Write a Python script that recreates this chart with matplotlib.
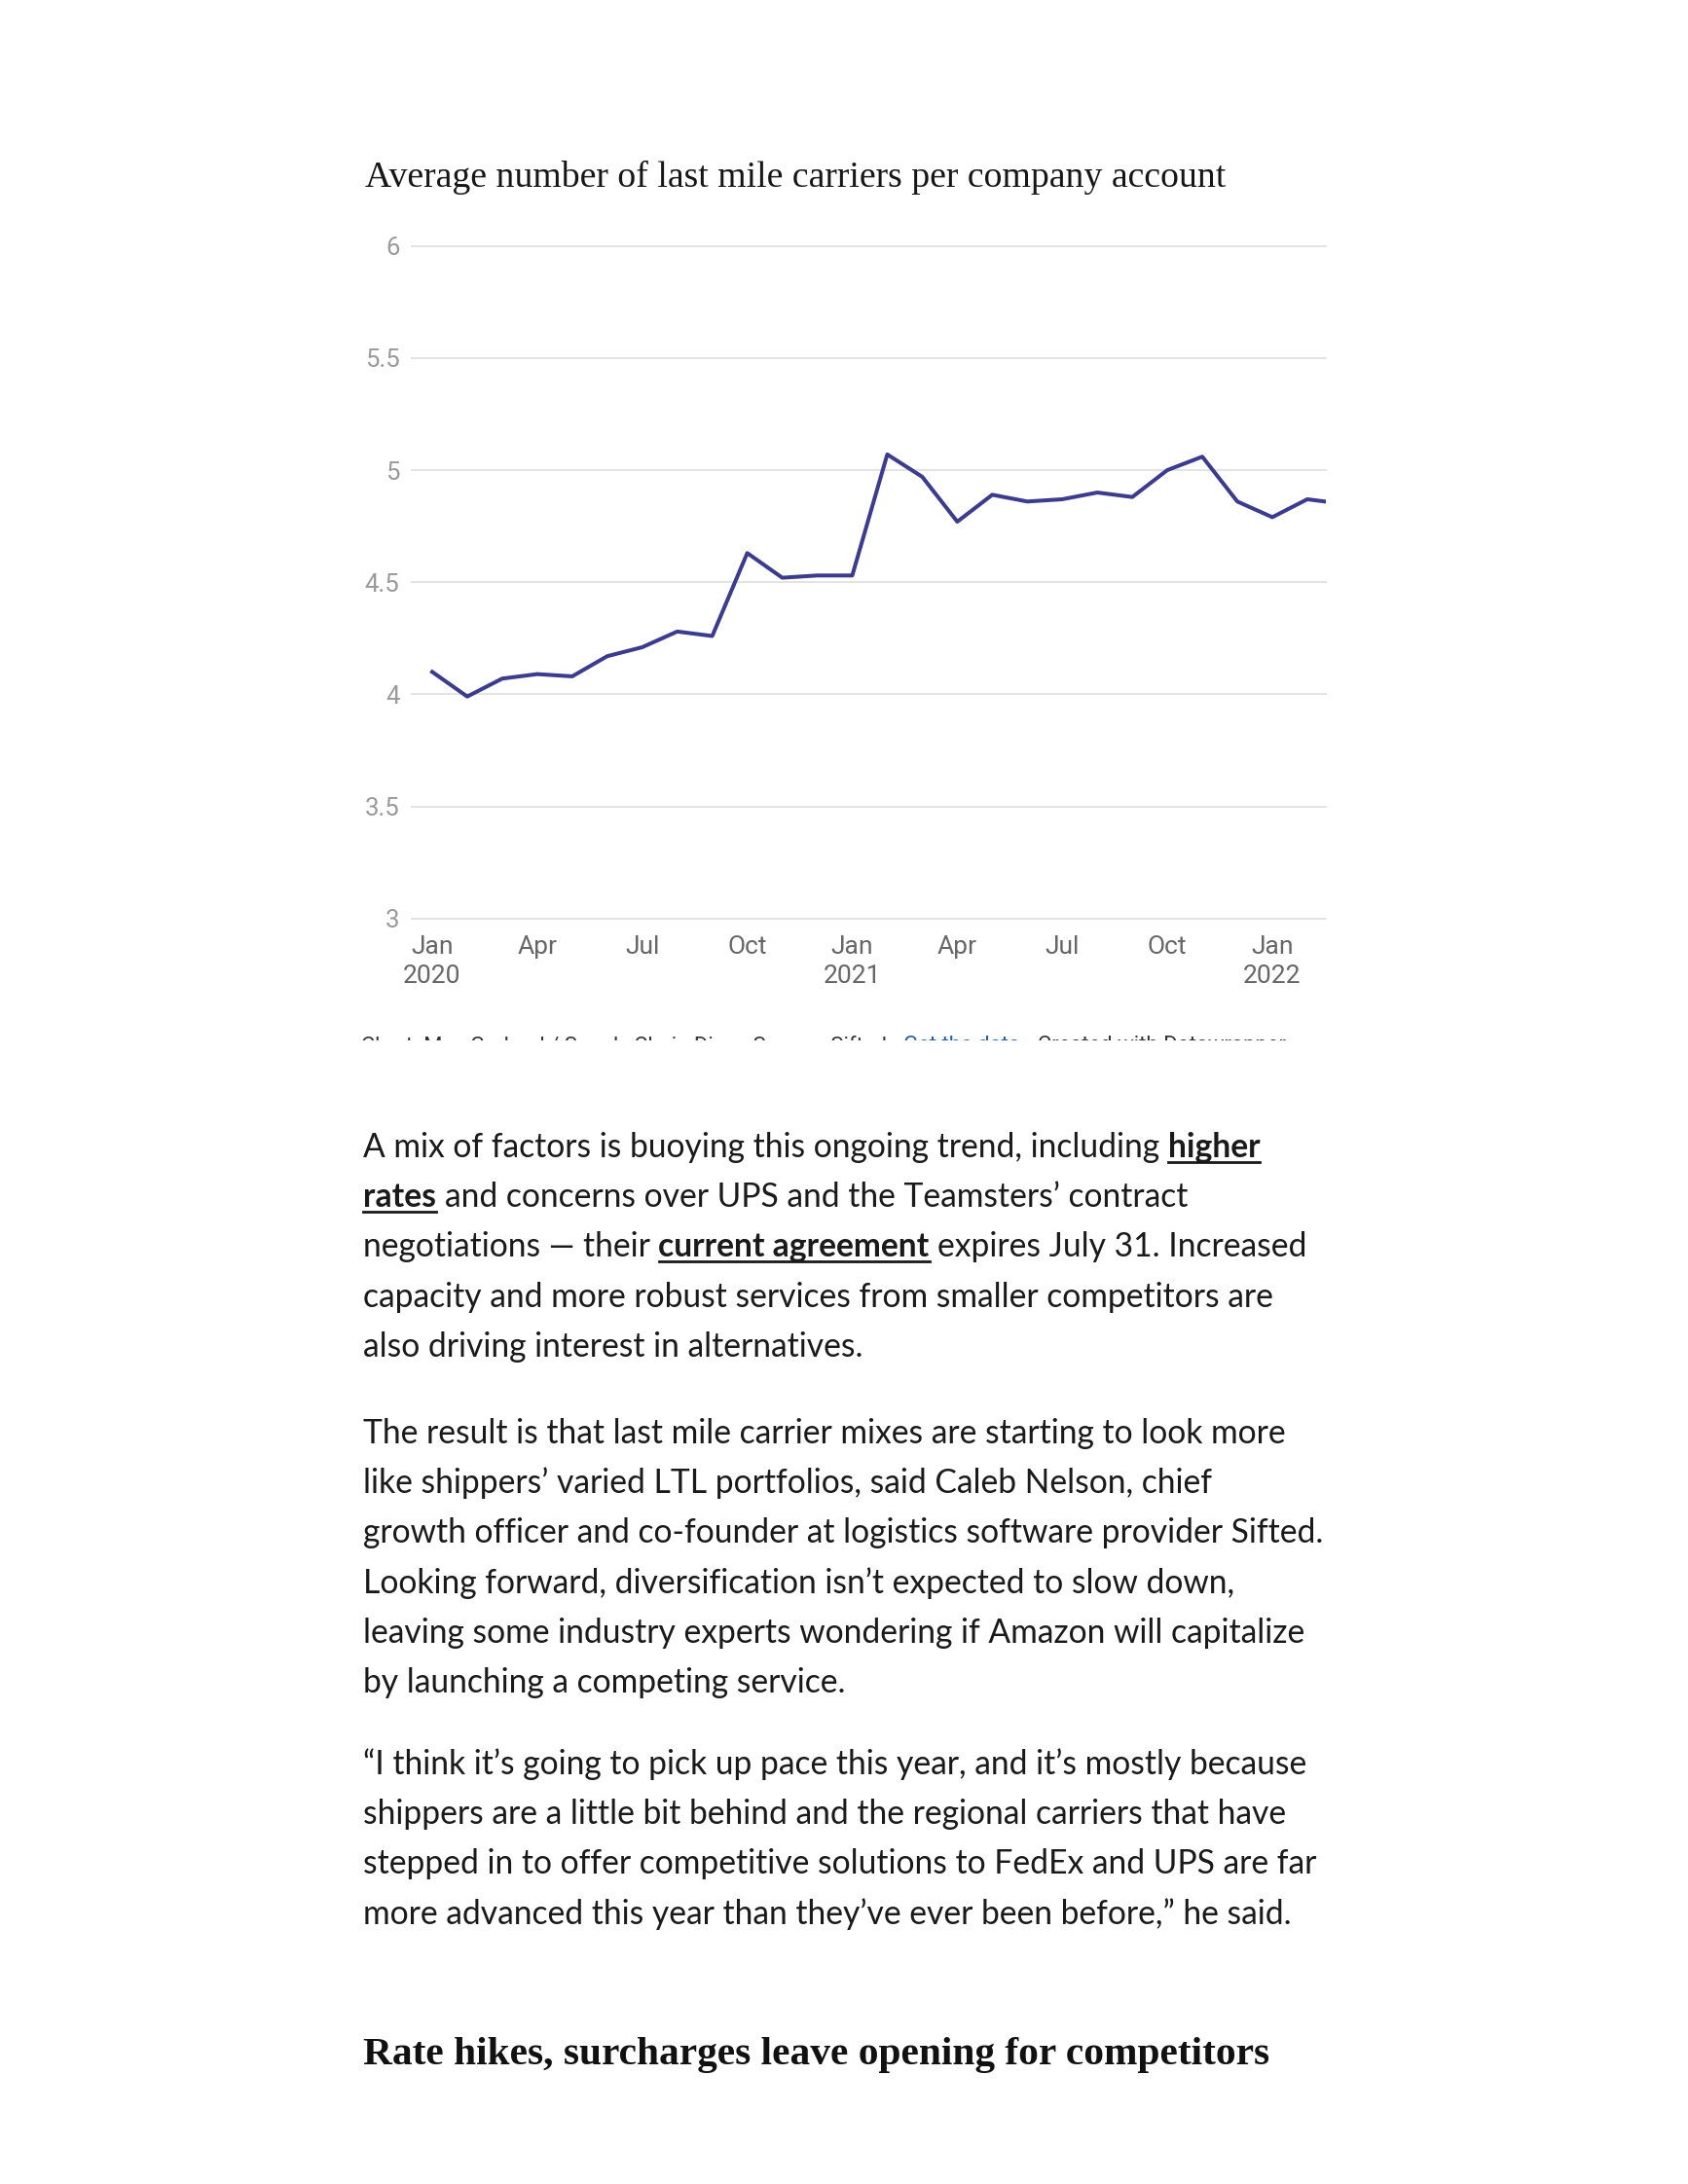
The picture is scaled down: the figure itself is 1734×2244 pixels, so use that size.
import numpy as np
import matplotlib.pyplot as plt
from matplotlib.patches import Rectangle

W, H = 1734, 2244

months = ["Jan\n2020", "Feb", "Mar", "Apr", "May", "Jun", "Jul", "Aug", "Sep", "Oct", "Nov", "Dec",
          "Jan\n2021", "Feb", "Mar", "Apr", "May", "Jun", "Jul", "Aug", "Sep", "Oct", "Nov", "Dec",
          "Jan\n2022", "Feb", "Mar"]
carriers = [4.10, 3.99, 4.07, 4.09, 4.08, 4.17, 4.21, 4.28, 4.26, 4.63, 4.52, 4.53,
            4.53, 5.07, 4.97, 4.77, 4.89, 4.86, 4.87, 4.90, 4.88, 5.00, 5.06, 4.86,
            4.79, 4.87, 4.85]
y_ticks = [3, 3.5, 4, 4.5, 5, 5.5, 6]
x_tick_every = 3

title = "Average number of last mile carriers per company account"
footer = ["Chart: Max Garland / Supply Chain Dive \u2022 Source: Sifted \u2022", "Get the data",
          "\u2022 Created with Datawrapper"]

# body text: each line is a list of (text, bold link)
paragraphs = [
    [[("A mix of factors is buoying this ongoing trend, including", False), ("higher", True)],
     [("rates", True), ("and concerns over UPS and the Teamsters\u2019 contract", False)],
     [("negotiations \u2014 their", False), ("current agreement", True), ("expires July 31. Increased", False)],
     [("capacity and more robust services from smaller competitors are", False)],
     [("also driving interest in alternatives.", False)]],
    [[("The result is that last mile carrier mixes are starting to look more", False)],
     [("like shippers\u2019 varied LTL portfolios, said Caleb Nelson, chief", False)],
     [("growth officer and co-founder at logistics software provider Sifted.", False)],
     [("Looking forward, diversification isn\u2019t expected to slow down,", False)],
     [("leaving some industry experts wondering if Amazon will capitalize", False)],
     [("by launching a competing service.", False)]],
    [[("\u201cI think it\u2019s going to pick up pace this year, and it\u2019s mostly because", False)],
     [("shippers are a little bit behind and the regional carriers that have", False)],
     [("stepped in to offer competitive solutions to FedEx and UPS are far", False)],
     [("more advanced this year than they\u2019ve ever been before,\u201d he said.", False)]],
]
heading = "Rate hikes, surcharges leave opening for competitors"


def fx(px):
    return px / W


def fy(py):
    return 1 - py / H


fig = plt.figure(figsize=(W / 100, H / 100), dpi=100)
fig.patch.set_facecolor("white")
rend = fig.canvas.get_renderer()


def fit_size(txt, size, target, **kw):
    t = fig.text(0, 0, txt, fontsize=size, **kw)
    w = t.get_window_extent(rend).width
    t.remove()
    return size * target / w


# chart
ax = fig.add_axes([fx(423), fy(943.7), (1362 - 423) / W, (943.7 - 252.7) / H])
x = np.arange(len(carriers))
for v in y_ticks:
    ax.axhline(v, color="#e3e3e3", lw=1.4, zorder=1, clip_on=False)
ax.plot(x, carriers, color="#3c3c8e", lw=2.9, zorder=3)
ax.set_xlim(-0.584, 25.53)
ax.set_ylim(3, 6)
for s in ax.spines.values():
    s.set_visible(False)
ax.set_yticks(y_ticks)
ax.set_yticklabels([f"{v:g}" for v in y_ticks], family="Roboto", fontsize=18.5, color="#9a9a9a")
ax.set_xticks(x[::x_tick_every])
ax.set_xticklabels(months[::x_tick_every], family="Roboto", fontsize=19, color="#666666",
                   linespacing=1.33)
ax.tick_params(axis="y", length=0, pad=9)
ax.tick_params(axis="x", length=0, pad=12.5)

fig.text(fx(375), fy(191.7), title, va="baseline", ha="left", color="#161616",
         fontsize=fit_size(title, 25, 1262 - 375, family="Liberation Serif"),
         family="Liberation Serif")

# cut-off footer line
fsz = fit_size(" ".join(footer), 14, 1330 - 371, family="Roboto")
xp = 371
for i, (seg, col) in enumerate(zip(footer, ["#333333", "#1d5fa8", "#333333"])):
    t = fig.text(fx(xp), fy(1064), seg, va="top", ha="left", fontsize=fsz, family="Roboto", color=col)
    xp = t.get_window_extent(rend).x1 + fsz * 0.28
fig.patches.append(Rectangle((0, fy(1100)), 1, fy(1069) - fy(1100), transform=fig.transFigure,
                             facecolor="white", edgecolor="none", zorder=10))

# article text
body_font = "Lato"
bsz = 1.015 * fit_size(paragraphs[1][2][0][0], 22, 1343 - 373, family=body_font)
probe = fig.text(0, 0, "a a", fontsize=bsz, family=body_font)
probe2 = fig.text(0, 0, "aa", fontsize=bsz, family=body_font)
space = probe.get_window_extent(rend).width - probe2.get_window_extent(rend).width
probe.remove()
probe2.remove()

para_starts = [1189, 1483, 1823]
line_gap = 51.2
for start, para in zip(para_starts, paragraphs):
    for i, line in enumerate(para):
        base = start + i * line_gap
        xp = 373
        for seg, bold in line:
            t = fig.text(fx(xp), fy(base), seg, va="baseline", ha="left", fontsize=bsz,
                         family=body_font, weight="bold" if bold else "normal", color="#1a1a1a")
            bb = t.get_window_extent(rend)
            if bold:
                fig.add_artist(plt.Line2D([fx(bb.x0), fx(bb.x1)], [fy(base + 4.5)] * 2,
                                          transform=fig.transFigure, color="#1a1a1a", lw=2.0))
            xp = bb.x1 + space

fig.text(fx(373), fy(2121), heading, va="baseline", ha="left", color="#111111", weight="bold",
         fontsize=fit_size(heading, 28, 1306 - 373, family="Liberation Serif", weight="bold"),
         family="Liberation Serif")

fig.savefig("out.png", dpi=100, facecolor="white")
